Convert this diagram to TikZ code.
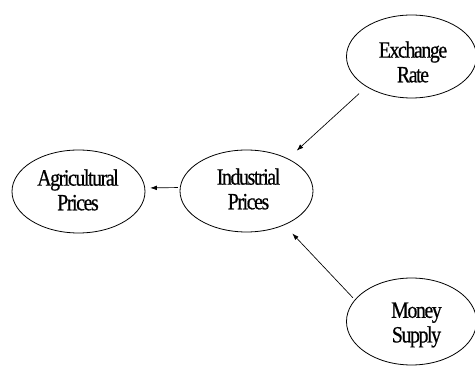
\documentclass[tikz,border=0pt]{standalone}
\usepackage{fontspec}
\newfontfamily\bubblefont[FakeStretch=0.85, LetterSpace=-6, FakeBold=0.6]{Liberation Serif}
\usetikzlibrary{shapes.geometric, arrows.meta}
\tikzset{
   bubble/.style={draw, ellipse, line width=0.6pt, inner sep=0pt},
   lbl/.style={align=center, inner sep=0pt,
      font=\bubblefont\fontsize{17.5}{18.5}\selectfont},
   arr/.style={-{Latex[length=5pt, width=3.5pt]}, line width=0.5pt}
}

\begin{document}
\begin{tikzpicture}[x=0.75pt, y=-0.75pt]
   \useasboundingbox (0,0) rectangle (475,366);
   % Bubbles
   \node[bubble, minimum width=99.75pt, minimum height=62.25pt] (agr) at (78.5,191.5) {};
   \node[bubble, minimum width=99.75pt, minimum height=61.5pt] (ind) at (246.5,191) {};
   \node[bubble, minimum width=97.5pt, minimum height=62.25pt] (exch) at (411.5,56.5) {};
   \node[bubble, minimum width=97.5pt, minimum height=65.25pt] (money) at (411.5,321.5) {};
   % Texts
   \node[lbl] (agr-t) at (78,190) {Agricultural\\Prices};
   \node[lbl] (ind-t) at (248.5,189) {Industrial\\Prices};
   \node[lbl] (exch-t) at (413,62) {Exchange\\Rate};
   \node[lbl] (money-t) at (416.5,325) {Money\\Supply};
   % Arrows
   \draw[arr, shorten <=1.5pt, shorten >=3.75pt] (ind.177) -- (agr.3);
   \draw[arr, shorten <=7.5pt, shorten >=8.8pt] (exch.214) -- (ind.38.5);
   \draw[arr, shorten <=2pt, shorten >=8.6pt] (money.159) -- (ind.-42);
\end{tikzpicture}
\end{document}
